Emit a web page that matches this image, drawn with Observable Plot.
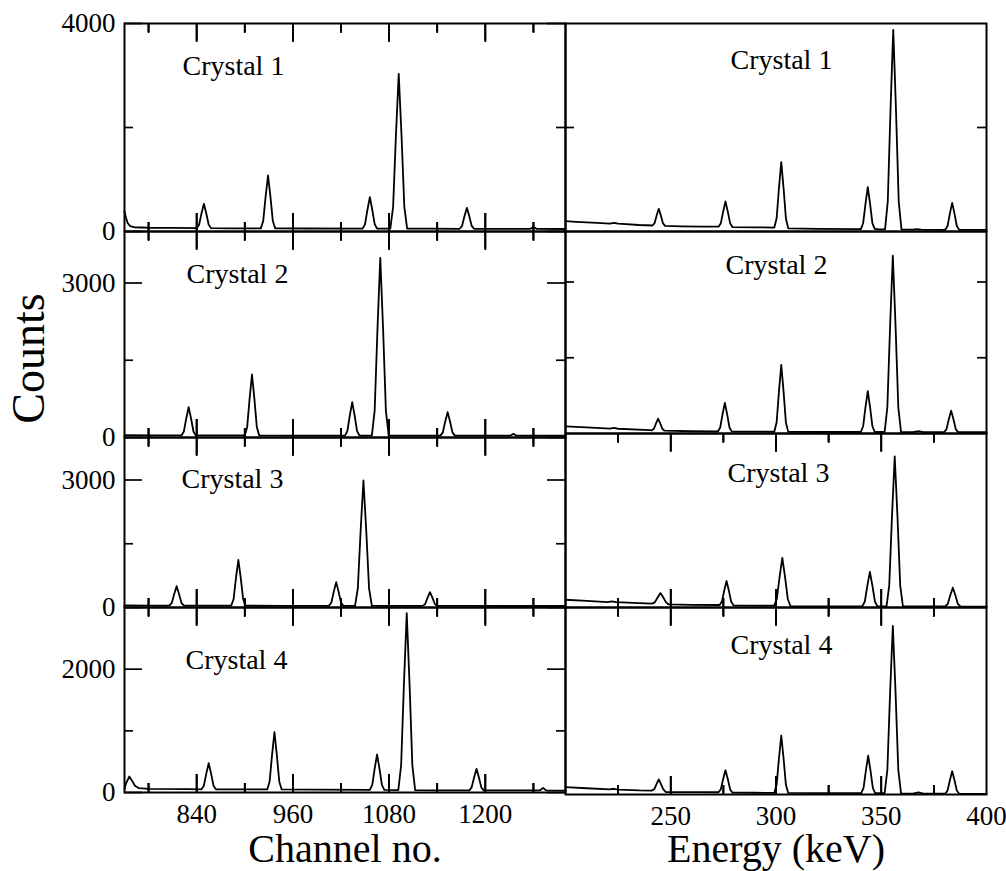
<!DOCTYPE html>
<html><head><meta charset="utf-8">
<script src="https://cdn.jsdelivr.net/npm/d3@7"></script>
<script src="https://cdn.jsdelivr.net/npm/@observablehq/plot@0.6"></script>
<style>
body{margin:0;background:#fff;}
#fig{position:relative;width:1006px;height:871px;overflow:hidden;background:#fff;}
#fig svg{position:absolute;}
</style></head><body><div id="fig"></div>
<script>
// ---- data ----
const crystalNames = ["Crystal 1", "Crystal 2", "Crystal 3", "Crystal 4"];
const channelMajorTicks = [840, 960, 1080, 1200];
const channelMinorTicks = [780, 900, 1020, 1140, 1260];
const energyMajorTicks = [250, 300, 350];
const energyMinorTicks = [225, 275, 325, 375];
const energyTickLabels = [250, 300, 350, 400];
const countsMajorTicks = [[0, 4000], [0, 3000], [0, 3000], [0, 2000]];
const countsMinorTicks = [[2000], [1500], [1500], [1000]];
const rightCountsTicks = [[2000], [1500, 3000], [], []];

const crystal1Channel = [[750,385],[752,260],[754,160],[757,105],[762,82],[780,72],[810,68],[840,64],[843,130],[846,345],[849,532],[852,345],[855,130],[858,64],[880,62],[920,60],[923,202],[926,670],[929,1077],[932,670],[935,202],[938,60],[980,58],[1047,56],[1050,141],[1053,418],[1056,660],[1059,418],[1062,141],[1065,56],[1081.5,56],[1085,473],[1088.5,1842],[1092,3032],[1095.5,1842],[1099,473],[1102.5,56],[1130,54],[1168,52],[1171,108],[1174,294],[1177,455],[1180,294],[1183,108],[1186,52],[1220,50],[1256,50],[1260,85],[1264,50],[1300,48]];
const crystal2Channel = [[750,45],[790,42],[821,40],[824,117],[827,369],[830,588],[833,369],[836,117],[839,40],[870,40],[900,40],[903,206],[906,750],[909,1223],[912,750],[915,206],[918,40],[960,38],[1025,38],[1028,129],[1031,427],[1034,686],[1037,427],[1040,129],[1043,38],[1058.5,38],[1062,521],[1065.5,2109],[1069,3489],[1072.5,2109],[1076,521],[1079.5,38],[1110,36],[1144,36],[1147,100],[1150,310],[1153,492],[1156,310],[1159,100],[1162,36],[1200,35],[1231,35],[1235,70],[1239,35],[1300,34]];
const crystal3Channel = [[750,50],[780,46],[806,45],[809,109],[812,319],[815,501],[818,319],[821,109],[824,45],[850,42],[883,42],[886,193],[889,690],[892,1122],[895,690],[898,193],[901,42],[950,40],[1005,40],[1008,118],[1011,374],[1014,596],[1017,374],[1020,118],[1023,40],[1037.5,40],[1041,453],[1044.5,1809],[1048,2988],[1051.5,1809],[1055,453],[1058.5,40],[1090,38],[1122,38],[1125,83],[1128,232],[1131,361],[1134,232],[1137,83],[1140,38],[1180,36],[1300,35]];
const crystal4Channel = [[750,60],[752,150],[756,259],[759,200],[763,110],[768,70],[780,60],[830,55],[846,52],[849,111],[852,306],[855,476],[858,306],[861,111],[864,52],[890,50],[928,50],[931,180],[934,607],[937,978],[940,607],[943,180],[946,50],[990,45],[1056,42],[1059,122],[1062,386],[1065,616],[1068,386],[1071,122],[1074,42],[1091.5,40],[1095,442],[1098.5,1761],[1102,2908],[1105.5,1761],[1109,442],[1112.5,40],[1140,36],[1180,35],[1183,84],[1186,244],[1189,384],[1192,244],[1195,84],[1198,35],[1240,33],[1268,33],[1272,75],[1276,33],[1300,32]];

const crystal1Energy = [[200,198],[205,185],[215,165],[221,152],[223,168],[225,150],[235,125],[241.3,115],[242.3,160],[243.3,308],[244.3,436],[245.3,308],[246.3,160],[247.3,108],[255,100],[265,95],[272.7,92],[273.8,160],[274.9,383],[276,577],[277.1,383],[278.2,160],[279.3,85],[290,80],[299.2,76],[300.3,254],[301.4,831],[302.5,1333],[303.6,831],[304.7,254],[305.8,60],[320,50],[340.3,45],[341.4,158],[342.5,529],[343.6,852],[344.7,529],[345.8,158],[346.9,50],[349,40],[351.8,40],[353.1,577],[354.4,2343],[355.7,3878],[357,2343],[358.3,577],[359.6,40],[365,35],[367,45],[369,35],[380.4,33],[381.5,106],[382.6,344],[383.7,551],[384.8,344],[385.9,106],[387,33],[395,30],[400,30]];
const crystal2Energy = [[200,140],[210,120],[221,97],[223,110],[225,94],[240,65],[241,62],[242,94],[243,201],[244,293],[245,201],[246,94],[247,55],[260,45],[272.4,40],[273.5,119],[274.6,380],[275.7,607],[276.8,380],[277.9,119],[279,38],[290,36],[299.2,35],[300.3,221],[301.4,830],[302.5,1360],[303.6,830],[304.7,221],[305.8,32],[320,30],[340.3,30],[341.4,143],[342.5,516],[343.6,840],[344.7,516],[345.8,143],[346.9,30],[351.6,30],[352.9,519],[354.2,2124],[355.5,3520],[356.8,2124],[358.1,519],[359.4,28],[365,27],[367.7,45],[370,27],[379.9,27],[381,87],[382.1,283],[383.2,453],[384.3,283],[385.4,87],[386.5,27],[395,25],[400,25]];
const crystal3Energy = [[200,178],[210,150],[220,125],[222,140],[224,123],[235,100],[241.2,90],[242.5,124],[243.8,235],[245.1,331],[246.4,235],[247.7,124],[249,70],[260,62],[273.2,58],[274.3,135],[275.4,389],[276.5,609],[277.6,389],[278.7,135],[279.8,50],[290,45],[299.1,42],[300.4,196],[301.7,701],[303,1141],[304.3,701],[305.6,196],[306.9,30],[320,28],[341,28],[342.2,138],[343.4,501],[344.6,817],[345.8,501],[347,138],[348.2,25],[352.5,25],[353.8,508],[355.1,2096],[356.4,3476],[357.7,2096],[359,508],[360.3,25],[370,23],[380.4,23],[381.6,83],[382.8,282],[384,455],[385.2,282],[386.4,83],[387.6,23],[395,22],[400,22]];
const crystal4Energy = [[200,119],[210,100],[221,82],[223,92],[225,78],[235,65],[241,62],[242.2,87],[243.3,171],[244.3,243],[245.3,171],[246.4,87],[247.6,40],[260,38],[272.7,36],[273.8,85],[274.9,248],[276,389],[277.1,248],[278.2,85],[279.3,30],[290,28],[299.2,27],[300.3,156],[301.4,578],[302.5,946],[303.6,578],[304.7,156],[305.8,25],[320,22],[340.5,22],[341.6,106],[342.7,382],[343.8,622],[344.9,382],[346,106],[347.1,20],[351.6,20],[352.9,396],[354.2,1630],[355.5,2703],[356.8,1630],[358.1,396],[359.4,18],[365,15],[367.7,35],[370,14],[380.4,12],[381.5,63],[382.6,229],[383.7,373],[384.8,229],[385.9,63],[387,12],[395,10],[400,10]];

const channelSpectra = [crystal1Channel, crystal2Channel, crystal3Channel, crystal4Channel];
const energySpectra = [crystal1Energy, crystal2Energy, crystal3Energy, crystal4Energy];

// ---- layout ----
const FONT = "'Liberation Serif','Times New Roman',serif";
const fig = document.getElementById("fig");
const leftRows = [[23, 208], [231, 206], [437, 170], [607, 185]];
const rightRows = [[23, 208], [231, 202], [433, 174], [607, 187]];
const leftYMax = [4000, 4000, 4000, 3000];
const rightYMax = [4000, 4000, 4000, 3000];
const leftLabelPos = [[58, 51], [62, 51], [57, 50], [61, 61]];
const rightLabelPos = [[165, 45], [160, 42], [162, 48], [165, 46]];
const MAJ = 18, MIN = 9, TW = 1.7;
const tickStyle = {stroke: "black", strokeWidth: TW};
const svgStyle = {fontFamily: FONT, fontSize: "27px", color: "black", background: "transparent", overflow: "visible", maxWidth: "none"};

// inward tick marks on the top and bottom edges
function ticksX(vals, len, height, yMax) {
  const d = len / height * yMax;
  return [
    Plot.axisX({ticks: vals, anchor: "top", tickSize: -len, tickFormat: () => "", strokeWidth: TW, label: null}),
    Plot.axisX({ticks: vals, anchor: "bottom", tickSize: -len, tickFormat: () => "", strokeWidth: TW, label: null}),
    Plot.tickX(vals, {x: v => v, insetBottom: height - len, ...tickStyle}),
    Plot.tickX(vals, {x: v => v, insetTop: height - len, ...tickStyle}),
    Plot.ruleX(vals, {x: v => v, y1: yMax, y2: yMax - d, ...tickStyle}),
    Plot.ruleX(vals, {x: v => v, y1: 0, y2: d, ...tickStyle})
  ];
}
// inward tick marks on the left and right edges
function ticksY(vals, len, width, xDomain, left, right) {
  const [x0, x1] = xDomain;
  const d = len / width * (x1 - x0);
  const m = [];
  if (left) m.push(Plot.ruleY(vals, {y: v => v, x1: x0, x2: x0 + d, ...tickStyle}));
  if (right) m.push(Plot.ruleY(vals, {y: v => v, x1: x1 - d, x2: x1, ...tickStyle}));
  return m;
}
function makePanel(xDomain, yMax, left, top, width, height, marks) {
  const svg = Plot.plot({
    width, height, marginLeft: 0, marginRight: 0, marginTop: 0, marginBottom: 0,
    x: {domain: xDomain},
    y: {domain: [0, yMax]},
    style: svgStyle,
    marks
  });
  svg.style.left = left + "px";
  svg.style.top = top + "px";
  fig.appendChild(svg);
}

// left column (channel)
const chDomain = [750, 1300];
for (let i = 0; i < 4; i++) {
  const [top, height] = leftRows[i];
  const left = 124, width = 441;
  const marks = [
    Plot.line(channelSpectra[i], {x: d => d[0], y: d => d[1], stroke: "black", strokeWidth: 1.8}),
    Plot.frame({stroke: "black", strokeWidth: 2}),
    ...ticksX(channelMajorTicks, MAJ, height, leftYMax[i]),
    ...ticksX(channelMinorTicks, MIN, height, leftYMax[i]),
    ...ticksY(countsMajorTicks[i], MAJ, width, chDomain, true, true),
    ...ticksY(countsMinorTicks[i], MIN, width, chDomain, true, true),
    Plot.axisY({ticks: countsMajorTicks[i], anchor: "left", tickSize: 0, tickPadding: 9, tickFormat: d => String(d), fontSize: 27, label: null}),
    Plot.text([crystalNames[i]], {text: d => d, frameAnchor: "top-left", dx: leftLabelPos[i][0], dy: leftLabelPos[i][1], textAnchor: "start", lineAnchor: "bottom", fontSize: 28, fill: "black"})
  ];
  if (i === 3) {
    marks.push(Plot.axisX({ticks: channelMajorTicks, anchor: "bottom", tickSize: 0, tickPadding: 11, tickFormat: d => String(d), fontSize: 27, label: null}));
    marks.push(Plot.text(["Channel no."], {text: d => d, frameAnchor: "bottom", dy: 69, lineAnchor: "bottom", fontSize: 40, fill: "black"}));
  }
  if (i === 1) {
    marks.push(Plot.text(["Counts"], {text: d => d, frameAnchor: "left", dx: -81, dy: 24, rotate: -90, lineAnchor: "bottom", textAnchor: "middle", fontSize: 46, fill: "black"}));
  }
  makePanel(chDomain, leftYMax[i], left, top, width, height, marks);
}

// right column (energy)
const enDomain = [200, 400];
for (let i = 0; i < 4; i++) {
  const [top, height] = rightRows[i];
  const left = 565, width = 421;
  const hasX = i >= 2;
  const marks = [
    Plot.line(energySpectra[i], {x: d => d[0], y: d => d[1], stroke: "black", strokeWidth: 1.8}),
    Plot.frame({stroke: "black", strokeWidth: 2}),
    ...(hasX ? ticksX(energyMajorTicks, MAJ, height, rightYMax[i]) : []),
    ...(hasX ? ticksX(energyMinorTicks, MIN, height, rightYMax[i]) : []),
    ...ticksY(rightCountsTicks[i], MIN, width, enDomain, true, true),
    Plot.axisY({ticks: [], anchor: "left", tickSize: 0, label: null}),
    Plot.text([crystalNames[i]], {text: d => d, frameAnchor: "top-left", dx: rightLabelPos[i][0], dy: rightLabelPos[i][1], textAnchor: "start", lineAnchor: "bottom", fontSize: 28, fill: "black"})
  ];
  if (i === 3) {
    marks.push(Plot.axisX({ticks: energyTickLabels, anchor: "bottom", tickSize: 0, tickPadding: 11, tickFormat: d => String(d), fontSize: 27, label: null}));
    marks.push(Plot.text(["Energy (keV)"], {text: d => d, frameAnchor: "bottom", dy: 67, lineAnchor: "bottom", fontSize: 40, fill: "black"}));
  } else if (!hasX) {
    marks.push(Plot.axisX({ticks: [], anchor: "bottom", tickSize: 0, label: null}));
  }
  makePanel(enDomain, rightYMax[i], left, top, width, height, marks);
}
</script></body></html>
